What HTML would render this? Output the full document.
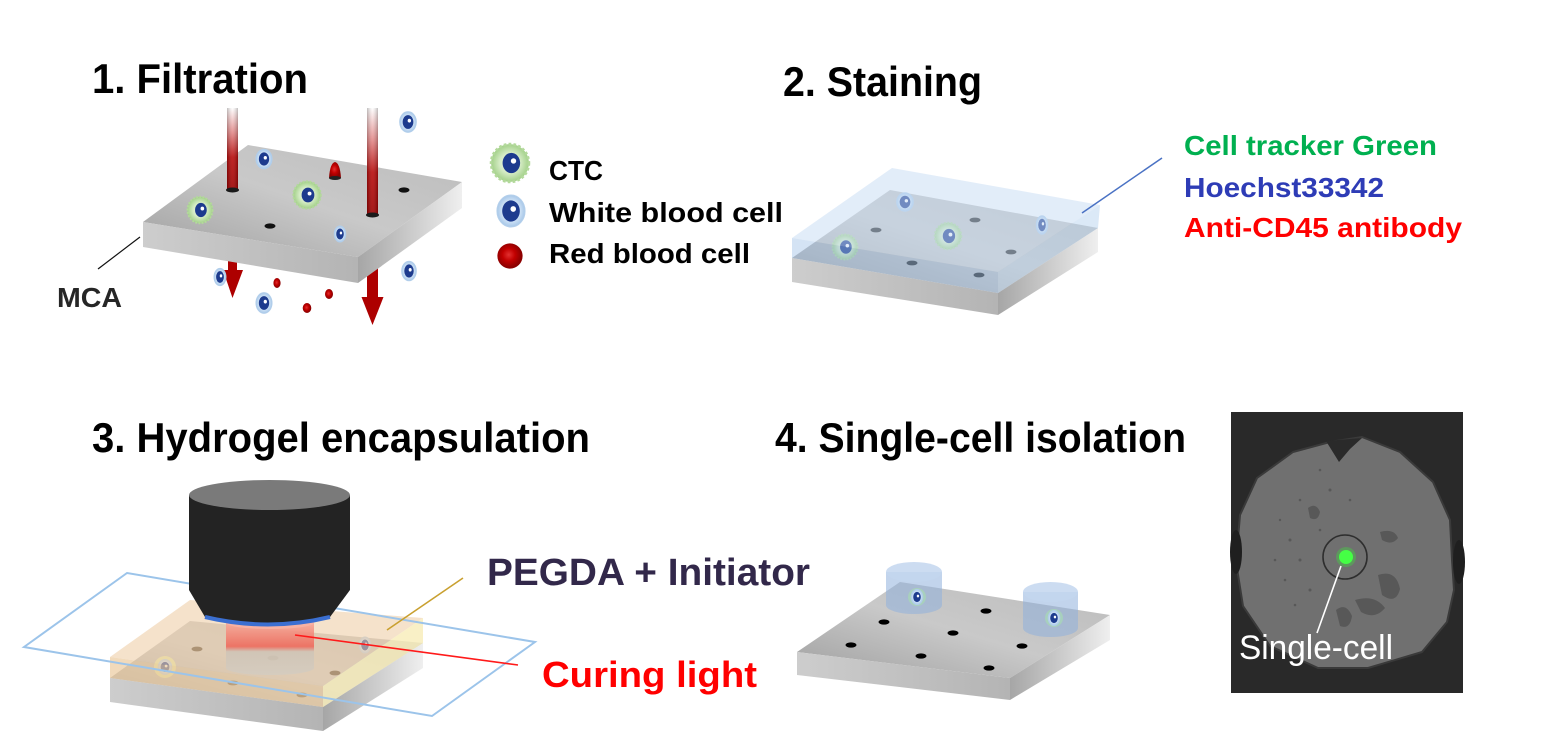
<!DOCTYPE html>
<html><head><meta charset="utf-8"><style>
html,body{margin:0;padding:0;background:#fff;}
svg{display:block;}
.t{font-family:"Liberation Sans",sans-serif;font-weight:bold;}
</style></head><body>
<svg width="1560" height="740" viewBox="0 0 1560 740" xmlns="http://www.w3.org/2000/svg">
<defs>
<linearGradient id="topG" x1="0" y1="1" x2="1" y2="0"><stop offset="0" stop-color="#9f9f9f"/><stop offset="0.5" stop-color="#c9c9c9"/><stop offset="1" stop-color="#bcbcbc"/></linearGradient>
<linearGradient id="frontG" x1="0" x2="1"><stop offset="0" stop-color="#cdcdcd"/><stop offset="1" stop-color="#b4b4b4"/></linearGradient>
<linearGradient id="rightG" x1="0" x2="1"><stop offset="0" stop-color="#a6a6a6"/><stop offset="1" stop-color="#efefef"/></linearGradient>
<linearGradient id="shaftG" x1="0" y1="0" x2="0" y2="1"><stop offset="0" stop-color="#ffffff"/><stop offset="0.3" stop-color="#e48a8a"/><stop offset="0.6" stop-color="#b80c0c"/><stop offset="1" stop-color="#9c0000"/></linearGradient>
<linearGradient id="shaftH" x1="0" x2="1"><stop offset="0" stop-color="#000" stop-opacity="0.25"/><stop offset="0.5" stop-color="#fff" stop-opacity="0.1"/><stop offset="1" stop-color="#000" stop-opacity="0.25"/></linearGradient>
<radialGradient id="wbcG"><stop offset="0" stop-color="#f4f9ff"/><stop offset="0.6" stop-color="#d3e5f7"/><stop offset="1" stop-color="#a7c7e8"/></radialGradient>
<radialGradient id="ctcG"><stop offset="0" stop-color="#f3faee"/><stop offset="0.55" stop-color="#d4ebc4"/><stop offset="1" stop-color="#a2d088"/></radialGradient>
<radialGradient id="rbcG" cx="0.45" cy="0.45"><stop offset="0" stop-color="#e23030"/><stop offset="0.5" stop-color="#c20000"/><stop offset="1" stop-color="#8c0000"/></radialGradient>
<linearGradient id="cylG" x1="0" y1="0" x2="0" y2="1"><stop offset="0" stop-color="#f6a898"/><stop offset="0.45" stop-color="#ee6a5c"/><stop offset="0.55" stop-color="#cfc4b6"/><stop offset="1" stop-color="#d4ccc0"/></linearGradient>
<g id="wbc"><ellipse rx="10" ry="11" fill="url(#wbcG)" stroke="#b3cfeb" stroke-width="0.8"/><ellipse cx="0" cy="0" rx="6.3" ry="7.3" fill="#1d3b8e"/><circle cx="1.6" cy="-1.4" r="2" fill="#fff"/></g>
<g id="ctc"><circle r="14" fill="url(#ctcG)" stroke="#b3d99b" stroke-width="2" stroke-dasharray="2 1.6"/><ellipse cx="1" cy="0" rx="6.5" ry="7.5" fill="#1d3b8e"/><circle cx="2.6" cy="-1.5" r="2" fill="#fff"/></g>
<g id="rbc"><circle r="6" fill="url(#rbcG)"/></g>
</defs>

<!-- ============ 1. Filtration ============ -->
<text class="t" x="92" y="93" font-size="42" textLength="216" lengthAdjust="spacingAndGlyphs" fill="#000">1. Filtration</text>

<polygon points="228,255 237,255 237,270 243,270 232.5,298 223,270 228,270" fill="#ad0000"/>
<polygon points="367,262 378,262 378,297 383.5,297 372.5,325 361.5,297 367,297" fill="#ad0000"/>

<path d="M143,222 L248,145 L462,182 L358,257 Z" fill="url(#topG)"/>
<path d="M143,222 L358,257 L358,283 L143,247 Z" fill="url(#frontG)"/>
<path d="M358,257 L462,182 L462,208 L358,283 Z" fill="url(#rightG)"/>

<rect x="227" y="108" width="11" height="82" fill="url(#shaftG)"/>
<rect x="227" y="108" width="11" height="82" fill="url(#shaftH)"/>
<ellipse cx="232.5" cy="190" rx="6.5" ry="2.5" fill="#1a1a1a"/>
<rect x="367" y="108" width="11" height="107" fill="url(#shaftG)"/>
<rect x="367" y="108" width="11" height="107" fill="url(#shaftH)"/>
<ellipse cx="372.5" cy="215" rx="6.5" ry="2.5" fill="#1a1a1a"/>

<ellipse cx="404" cy="190" rx="5.5" ry="2.6" fill="#111"/>
<ellipse cx="270" cy="226" rx="5.5" ry="2.6" fill="#111"/>

<use href="#wbc" transform="translate(408,122) scale(0.85,0.95)"/>
<use href="#wbc" transform="translate(264,159) scale(0.82,0.9)"/>
<path d="M329,178 Q330,163 335,162 Q340,163 341,178 Z" fill="url(#rbcG)"/>
<ellipse cx="335" cy="178" rx="6" ry="2" fill="#222"/>
<use href="#ctc" transform="translate(307,195) scale(0.98)"/>
<use href="#ctc" transform="translate(200,210) scale(0.9,0.95)"/>
<use href="#wbc" transform="translate(340,234) scale(0.6,0.75)"/>
<use href="#wbc" transform="translate(409,271) scale(0.75,0.9)"/>
<use href="#wbc" transform="translate(220,277) scale(0.62,0.8)"/>
<use href="#wbc" transform="translate(264,303) scale(0.82,0.95)"/>
<ellipse cx="277" cy="283" rx="3.6" ry="5" fill="url(#rbcG)"/>
<ellipse cx="329" cy="294" rx="4" ry="5" fill="url(#rbcG)"/>
<ellipse cx="307" cy="308" rx="4.3" ry="5" fill="url(#rbcG)"/>

<line x1="140" y1="237" x2="98" y2="269" stroke="#111" stroke-width="1.2"/>
<text class="t" x="57" y="307" font-size="28" textLength="65" lengthAdjust="spacingAndGlyphs" fill="#262626">MCA</text>

<use href="#ctc" transform="translate(510,163) scale(1.35)"/>
<use href="#wbc" transform="translate(511,211) scale(1.4,1.45)"/>
<use href="#rbc" transform="translate(510,256) scale(2.1)"/>
<text class="t" x="549" y="180" font-size="28" textLength="54" lengthAdjust="spacingAndGlyphs" fill="#000">CTC</text>
<text class="t" x="549" y="222" font-size="28" textLength="234" lengthAdjust="spacingAndGlyphs" fill="#000">White blood cell</text>
<text class="t" x="549" y="263" font-size="28" textLength="201" lengthAdjust="spacingAndGlyphs" fill="#000">Red blood cell</text>

<!-- ============ 2. Staining ============ -->
<text class="t" x="783" y="96" font-size="42" textLength="199" lengthAdjust="spacingAndGlyphs" fill="#000">2. Staining</text>

<path d="M792,258 L890,190 L1098,228 L998,293 Z" fill="url(#topG)"/>
<path d="M792,258 L998,293 L998,315 L792,282 Z" fill="url(#frontG)"/>
<path d="M998,293 L1098,228 L1098,252 L998,315 Z" fill="url(#rightG)"/>
<ellipse cx="876" cy="230" rx="5.5" ry="2.4" fill="#222"/>
<ellipse cx="975" cy="220" rx="5.5" ry="2.4" fill="#222"/>
<ellipse cx="1011" cy="252" rx="5.5" ry="2.4" fill="#222"/>
<ellipse cx="912" cy="263" rx="5.5" ry="2.4" fill="#222"/>
<ellipse cx="979" cy="275" rx="5.5" ry="2.4" fill="#222"/>
<use href="#wbc" transform="translate(905,202) scale(0.85)"/>
<use href="#wbc" transform="translate(1042,225) scale(0.6,0.85)"/>
<use href="#ctc" transform="translate(948,236) scale(0.95)"/>
<use href="#ctc" transform="translate(845,247) scale(0.9)"/>
<path d="M792,238 L892,168 L1100,205 L998,272 Z" fill="#c6dcf3" fill-opacity="0.5"/>
<path d="M792,238 L998,272 L998,293 L792,258 Z" fill="#9fc2e6" fill-opacity="0.45"/>
<path d="M998,272 L1100,205 L1098,228 L998,293 Z" fill="#b8d3ef" fill-opacity="0.5"/>
<line x1="1082" y1="213" x2="1162" y2="158" stroke="#4a72c4" stroke-width="1.5"/>

<text class="t" x="1184" y="155" font-size="28" textLength="253" lengthAdjust="spacingAndGlyphs" fill="#00b050">Cell tracker Green</text>
<text class="t" x="1184" y="197" font-size="28" textLength="200" lengthAdjust="spacingAndGlyphs" fill="#2e3cb6">Hoechst33342</text>
<text class="t" x="1184" y="237" font-size="28" textLength="278" lengthAdjust="spacingAndGlyphs" fill="#ff0000">Anti-CD45 antibody</text>

<!-- ============ 3. Hydrogel encapsulation ============ -->
<text class="t" x="92" y="452" font-size="42" textLength="498" lengthAdjust="spacingAndGlyphs" fill="#000">3. Hydrogel encapsulation</text>

<path d="M110,678 L190,621 L423,643 L323,707 Z" fill="url(#topG)"/>
<path d="M110,678 L323,707 L323,731 L110,702 Z" fill="url(#frontG)"/>
<path d="M323,707 L423,643 L423,668 L323,731 Z" fill="url(#rightG)"/>
<ellipse cx="197" cy="649" rx="5.5" ry="2.4" fill="#4a3a28"/>
<ellipse cx="233" cy="683" rx="5.5" ry="2.4" fill="#4a3a28"/>
<ellipse cx="335" cy="673" rx="5.5" ry="2.4" fill="#4a3a28"/>
<ellipse cx="302" cy="695" rx="5.5" ry="2.4" fill="#4a3a28"/>
<ellipse cx="273" cy="658" rx="5.5" ry="2.4" fill="#4a3a28"/>
<circle cx="165" cy="667" r="11" fill="#eef2a0" opacity="0.8"/>
<use href="#wbc" transform="translate(165,667) scale(0.7)"/>
<use href="#wbc" transform="translate(365,645) scale(0.6,0.75)"/>
<path d="M110,657 L190,600 L423,618 L323,686 Z" fill="#efcfa8" fill-opacity="0.6"/>
<path d="M110,657 L323,686 L323,707 L110,678 Z" fill="#ebcb9e" fill-opacity="0.7"/>
<path d="M323,686 L423,618 L423,643 L323,707 Z" fill="#f7ecb8" fill-opacity="0.8"/>

<path d="M226,623 L314,623 L314,668 A44,7 0 0 1 226,668 Z" fill="url(#cylG)" opacity="0.9"/>
<ellipse cx="270" cy="623" rx="44" ry="6" fill="#f7b4a6" opacity="0.8"/>

<polygon points="24,647 127,573 535,642 432,716" fill="none" stroke="#9cc4ea" stroke-width="2"/>

<path d="M189,495 L189,590 L205,617 Q268,632 330,617 L350,590 L350,495 Z" fill="#232323"/>
<path d="M205,617 Q268,632 330,617" fill="none" stroke="#3b6fd1" stroke-width="4"/>
<ellipse cx="269.5" cy="495" rx="80.5" ry="15" fill="#7a7a7a"/>

<line x1="295" y1="635" x2="518" y2="665" stroke="#ff1a1a" stroke-width="1.6"/>
<line x1="387" y1="630" x2="463" y2="578" stroke="#c9a030" stroke-width="1.6"/>

<text class="t" x="487" y="585" font-size="38" textLength="323" lengthAdjust="spacingAndGlyphs" fill="#32284a">PEGDA + Initiator</text>
<text class="t" x="542" y="687" font-size="36" textLength="215" lengthAdjust="spacingAndGlyphs" fill="#ff0000">Curing light</text>

<!-- ============ 4. Single-cell isolation ============ -->
<text class="t" x="775" y="452" font-size="42" textLength="411" lengthAdjust="spacingAndGlyphs" fill="#000">4. Single-cell isolation</text>

<path d="M797,652 L900,582 L1110,615 L1010,678 Z" fill="url(#topG)"/>
<path d="M797,652 L1010,678 L1010,700 L797,675 Z" fill="url(#frontG)"/>
<path d="M1010,678 L1110,615 L1110,640 L1010,700 Z" fill="url(#rightG)"/>
<ellipse cx="884" cy="622" rx="5.5" ry="2.6" fill="#000"/>
<ellipse cx="986" cy="611" rx="5.5" ry="2.6" fill="#000"/>
<ellipse cx="953" cy="633" rx="5.5" ry="2.6" fill="#000"/>
<ellipse cx="851" cy="645" rx="5.5" ry="2.6" fill="#000"/>
<ellipse cx="921" cy="656" rx="5.5" ry="2.6" fill="#000"/>
<ellipse cx="1022" cy="646" rx="5.5" ry="2.6" fill="#000"/>
<ellipse cx="989" cy="668" rx="5.5" ry="2.6" fill="#000"/>
<path d="M886,572 L942,572 L942,605 A28,9 0 0 1 886,605 Z" fill="#8fb0dc" fill-opacity="0.55"/>
<ellipse cx="914" cy="572" rx="28" ry="10" fill="#c3d6ee" fill-opacity="0.85"/>
<circle cx="917" cy="597" r="9" fill="#a8d6b8" opacity="0.8"/>
<use href="#wbc" transform="translate(917,597) scale(0.6,0.7)"/>
<path d="M1023,592 L1078,592 L1078,628 A27.5,9 0 0 1 1023,628 Z" fill="#8fb0dc" fill-opacity="0.55"/>
<ellipse cx="1050.5" cy="592" rx="27.5" ry="10" fill="#c3d6ee" fill-opacity="0.85"/>
<circle cx="1054" cy="618" r="9" fill="#a8d6b8" opacity="0.8"/>
<use href="#wbc" transform="translate(1054,618) scale(0.6,0.7)"/>

<!-- photo -->
<rect x="1231" y="412" width="232" height="281" fill="#292929"/>
<polygon points="1330,442 1362,437 1400,452 1433,482 1450,520 1452,560 1454,590 1447,622 1422,652 1368,668 1318,668 1270,646 1243,606 1236,562 1240,515 1257,478 1293,452" fill="#707070" stroke="#3a3a3a" stroke-width="2" stroke-linejoin="round"/>
<path d="M1326,441 L1339,462 L1350,449 L1362,438 Z" fill="#2a2a2a"/>
<ellipse cx="1236" cy="552" rx="6" ry="22" fill="#1f1f1f"/>
<ellipse cx="1459" cy="562" rx="6" ry="22" fill="#1f1f1f"/>
<g fill="#4e4e4e" opacity="0.7">
<path d="M1308,508 q8,-6 12,4 q-2,10 -10,6 z"/>
<path d="M1380,532 q14,-4 18,6 q-6,8 -16,2 z"/>
<path d="M1378,575 q18,-6 22,14 q-4,16 -18,6 z"/>
<path d="M1336,610 q10,-8 16,6 q-2,14 -12,10 z"/>
<path d="M1355,600 q20,-6 30,8 q-10,12 -24,4 z"/>
<circle cx="1290" cy="540" r="1.5"/><circle cx="1300" cy="560" r="1.5"/><circle cx="1285" cy="580" r="1.3"/>
<circle cx="1310" cy="590" r="1.5"/><circle cx="1320" cy="530" r="1.3"/><circle cx="1300" cy="500" r="1.3"/>
<circle cx="1330" cy="490" r="1.5"/><circle cx="1350" cy="500" r="1.3"/><circle cx="1275" cy="560" r="1.3"/>
<circle cx="1295" cy="605" r="1.3"/><circle cx="1320" cy="470" r="1.3"/><circle cx="1280" cy="520" r="1.2"/>
</g>
<circle cx="1345" cy="557" r="22" fill="none" stroke="#2e2e2e" stroke-width="1.6"/>
<circle cx="1346" cy="557" r="10" fill="#39e639" opacity="0.35"/>
<circle cx="1346" cy="557" r="7" fill="#45ff45"/>
<line x1="1341" y1="566" x2="1317" y2="633" stroke="#fff" stroke-width="1.6"/>
<text x="1239" y="659" font-family="Liberation Sans, sans-serif" font-size="34" textLength="154" lengthAdjust="spacingAndGlyphs" fill="#fff">Single-cell</text>
</svg>
</body></html>
